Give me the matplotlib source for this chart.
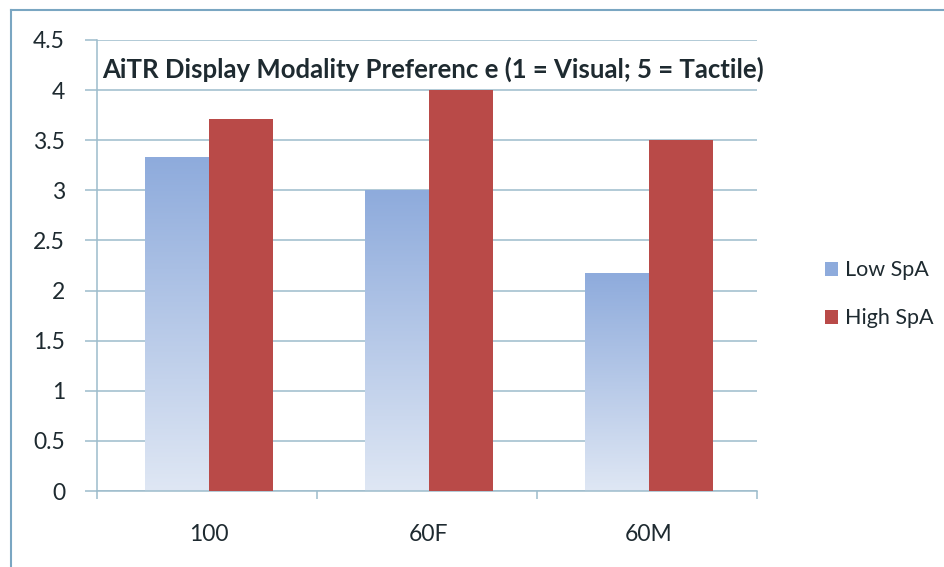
import numpy as np
import matplotlib
matplotlib.use("Agg")
import matplotlib.pyplot as plt
from matplotlib.colors import LinearSegmentedColormap
from matplotlib.lines import Line2D
from matplotlib.patches import Patch

# data
groups = ["100", "60F", "60M"]
low_spa = [3.33, 3.0, 2.17]
high_spa = [3.71, 4.0, 3.5]
series_names = ["Low SpA", "High SpA"]
title = "AiTR Display Modality Preferenc e (1 = Visual; 5 = Tactile)"

plt.rcParams["font.family"] = ["Lato", "DejaVu Sans"]

blue_top = "#8eabdc"
blue_bottom = "#dfe7f4"
red = "#b94a48"
grid_col = "#9dbccc"
text_col = "#1e2a30"
fs = 16.5

fig = plt.figure(figsize=(9.45, 5.67), dpi=100)
ax = fig.add_axes([0.1026, 0.134, 0.698, 0.7955])

x = np.arange(len(groups))
w = 0.29
low_bars = ax.bar(x - w / 2, low_spa, w, color="none", zorder=3)
high_bars = ax.bar(x + w / 2, high_spa, w, color=red, zorder=3)

# vertical gradient fill for the low bars
cmap = LinearSegmentedColormap.from_list("lowgrad", [blue_bottom, blue_top])
grad = np.linspace(0, 1, 256).reshape(-1, 1)
for b in low_bars:
    x0, h = b.get_x(), b.get_height()
    ax.imshow(grad, cmap=cmap, aspect="auto", origin="lower",
              extent=[x0, x0 + b.get_width(), 0, h], zorder=2.5)

ax.set_xlim(-0.51, 2.49)
ax.set_ylim(0, 4.5)
yt = np.arange(0, 4.51, 0.5)
ax.set_yticks(yt)
ax.set_yticklabels([f"{v:g}" for v in yt])
ax.yaxis.grid(True, color=grid_col, linewidth=1.1, zorder=0)
ax.set_axisbelow(True)

ax.set_xticks(x)
ax.set_xticklabels(groups)
ax.set_xticks(np.arange(-0.51, 2.6, 1), minor=True)
ax.tick_params(axis="x", which="major", length=0, pad=24, labelsize=fs, labelcolor=text_col)
ax.tick_params(axis="x", which="minor", length=6, width=1.1, color=grid_col, direction="out")
ax.tick_params(axis="y", length=9, width=1.1, color=grid_col, pad=14, labelsize=fs, labelcolor=text_col)

for s in ["top", "right"]:
    ax.spines[s].set_visible(False)
for s in ["left", "bottom"]:
    ax.spines[s].set_color(grid_col)
    ax.spines[s].set_linewidth(1.1)

ax.text(0.008, 0.935, title, transform=ax.transAxes, fontsize=18.5, fontweight="bold",
        color=text_col, va="center", ha="left", zorder=5)

handles = [Patch(facecolor=blue_top, edgecolor="none"), Patch(facecolor=red, edgecolor="none")]
fig.legend(handles, series_names, loc="center left", bbox_to_anchor=(0.862, 0.481),
           frameon=False, fontsize=15.5, handlelength=0.6, handleheight=0.6,
           handletextpad=0.3, labelspacing=1.3, borderpad=0, labelcolor=text_col)

# outer chart frame
fig.add_artist(Line2D([11 / 945, 11 / 945], [0, 1 - 10 / 567], color="#7aa6c2", linewidth=1.5))
fig.add_artist(Line2D([11 / 945, 1], [1 - 10 / 567, 1 - 10 / 567], color="#7aa6c2", linewidth=1.5))

fig.savefig("out.png", dpi=100, facecolor="white")
